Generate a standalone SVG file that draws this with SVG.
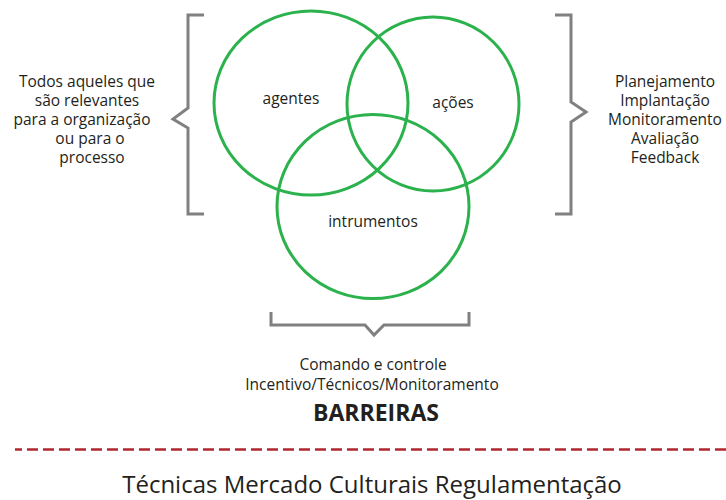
<svg xmlns="http://www.w3.org/2000/svg" width="726" height="500" viewBox="0 0 726 500">
<style>
.c{fill:none;stroke:#2bb24c;stroke-width:3}
.b{fill:none;stroke:#808080;stroke-width:3;stroke-linejoin:miter}
.t{font-family:"Open Sans","Noto Sans",sans-serif;font-size:15.5px;fill:#231f20;text-anchor:middle}
.big{font-family:"Open Sans","Noto Sans",sans-serif;font-size:23px;font-weight:bold;fill:#231f20;text-anchor:middle}
.foot{font-family:"Open Sans","Noto Sans",sans-serif;font-size:24px;fill:#231f20;text-anchor:middle}
</style>
<rect width="726" height="500" fill="#ffffff"/>
<g id="agentes"><ellipse class="c" cx="311" cy="103" rx="97" ry="92"/><text class="t" x="291" y="104">agentes</text></g>
<g id="acoes"><ellipse class="c" cx="433" cy="104" rx="86" ry="87"/><text class="t" x="453" y="108">ações</text></g>
<g id="intrumentos"><ellipse class="c" cx="373" cy="206.5" rx="96" ry="92"/><text class="t" x="373" y="227">intrumentos</text></g>
<g id="connectors">
<path class="b" d="M204,15 H188 V108 L173,119 L188,128 V214 H204"/>
<path class="b" d="M555,15 H571 V102 L586,112 L571,122 V214 H555"/>
<path class="b" d="M271,312 V325 H365 L374,335 L384,325 H469 V312"/>
</g>
<g id="left-label">
<text class="t" x="87" y="87">Todos aqueles que</text>
<text class="t" x="87" y="106">são relevantes</text>
<text class="t" x="82" y="125">para a organização</text>
<text class="t" x="90" y="144">ou para o</text>
<text class="t" x="92" y="163">processo</text>
</g>
<g id="right-label">
<text class="t" x="665" y="87">Planejamento</text>
<text class="t" x="665" y="106">Implantação</text>
<text class="t" x="665" y="125">Monitoramento</text>
<text class="t" x="665" y="144">Avaliação</text>
<text class="t" x="665" y="163">Feedback</text>
</g>
<g id="bottom-label">
<text class="t" x="373" y="370">Comando e controle</text>
<text class="t" x="372" y="390">Incentivo/Técnicos/Monitoramento</text>
<text class="big" x="376" y="421">BARREIRAS</text>
</g>
<line x1="15" y1="449.5" x2="726" y2="449.5" stroke="#b0272d" stroke-width="2.5" stroke-dasharray="11 5" stroke-dashoffset="4"/>
<text class="foot" x="372" y="493">Técnicas Mercado Culturais Regulamentação</text>
</svg>
